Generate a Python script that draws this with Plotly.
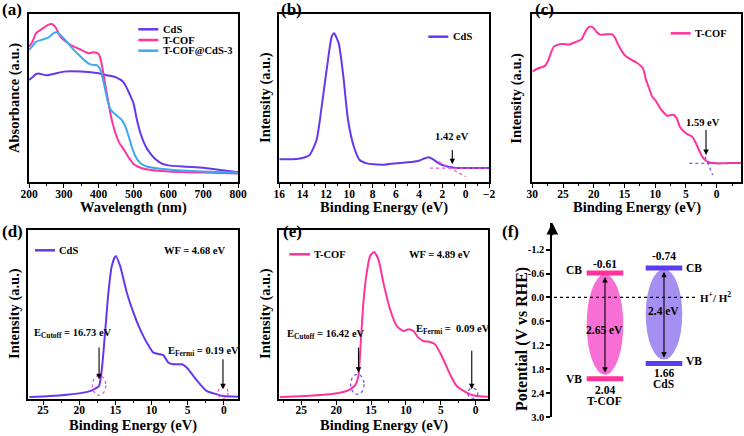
import plotly.graph_objects as go

W, H = 744, 436
FONT = "Liberation Serif"

# ---------------- data ----------------
# (a) UV-vis absorbance
wl_cds = [200, 210, 220, 230, 250, 270, 300, 350, 400, 420, 450, 470, 480, 490, 500, 510, 520, 530, 540, 560, 580, 600, 650, 700, 750, 800]
abs_cds = [0.607, 0.623, 0.643, 0.645, 0.635, 0.643, 0.657, 0.657, 0.647, 0.637, 0.623, 0.597, 0.563, 0.518, 0.468, 0.369, 0.290, 0.234, 0.194, 0.141, 0.111, 0.099, 0.091, 0.085, 0.071, 0.058]
wl_tcof = [200, 210, 220, 240, 255, 265, 275, 290, 300, 320, 350, 370, 385, 400, 405, 410, 420, 430, 440, 450, 460, 470, 480, 490, 500, 520, 550, 600, 700, 800]
abs_tcof = [0.806, 0.835, 0.885, 0.915, 0.935, 0.940, 0.925, 0.865, 0.845, 0.815, 0.786, 0.766, 0.772, 0.762, 0.736, 0.687, 0.567, 0.448, 0.349, 0.280, 0.230, 0.200, 0.167, 0.135, 0.107, 0.085, 0.071, 0.063, 0.056, 0.050]
wl_comp = [200, 210, 220, 240, 255, 270, 280, 300, 320, 350, 370, 385, 395, 405, 415, 425, 435, 450, 465, 475, 485, 495, 505, 520, 540, 600, 700, 800]
abs_comp = [0.786, 0.810, 0.835, 0.849, 0.859, 0.885, 0.891, 0.855, 0.806, 0.742, 0.706, 0.696, 0.696, 0.667, 0.587, 0.488, 0.429, 0.399, 0.373, 0.339, 0.280, 0.210, 0.155, 0.111, 0.091, 0.075, 0.063, 0.056]

# (b) VB-XPS CdS
be_b = [16, 14.5, 14, 13.4, 12.8, 12.4, 11.9, 11.5, 11.3, 10.9, 10.5, 10.1, 9.6, 9.1, 8.5, 7.9, 7, 6, 5, 4, 3.5, 3.2, 2.8, 2.4, 2, 1.5, 1, 0, -2]
int_b = [0.135, 0.137, 0.143, 0.161, 0.250, 0.429, 0.687, 0.865, 0.885, 0.825, 0.627, 0.369, 0.210, 0.131, 0.111, 0.105, 0.103, 0.111, 0.117, 0.127, 0.141, 0.147, 0.135, 0.115, 0.101, 0.091, 0.085, 0.083, 0.083]

# (c) VB-XPS T-COF
be_c = [30, 29, 28, 27.5, 27, 26.5, 26, 25, 24, 23, 22, 21.5, 21, 20.5, 20, 19.5, 19, 18, 17, 16.5,
        16, 15, 14, 13, 12, 11.5, 11, 10.5, 10, 9.5, 9, 8.5, 8, 7.5, 7, 6.5, 6, 5, 4.5, 4,
        3.5, 3, 2.5, 2, 1.5, 1, 0, -1, -2, -3, -4]
int_c = [0.657, 0.677, 0.690, 0.716, 0.766, 0.806, 0.815, 0.821, 0.819, 0.833, 0.849, 0.885, 0.915, 0.925, 0.915, 0.891, 0.877, 0.879, 0.879, 0.855,
         0.815, 0.756, 0.730, 0.710, 0.677, 0.607, 0.558, 0.508, 0.488, 0.458, 0.429, 0.409, 0.393, 0.399, 0.399, 0.379, 0.329, 0.290, 0.280, 0.270,
         0.240, 0.200, 0.161, 0.135, 0.121, 0.115, 0.111, 0.111, 0.113, 0.113, 0.115]

# (d) UPS CdS
be_d = [26.9, 24.04, 21.73, 19.43, 18.5, 17.81, 17.26, 16.88, 16.43, 15.97, 15.5, 14.95, 14.35, 13.42, 12.51, 11.58, 10.65, 9.74, 8.81, 8.35, 7.66, 6.97, 5.8, 5.11, 4.2, 3.27, 2.34, 0.96, 0.12, -2.0]
int_d = [0.010, 0.016, 0.024, 0.036, 0.045, 0.059, 0.075, 0.174, 0.391, 0.628, 0.787, 0.846, 0.787, 0.628, 0.510, 0.411, 0.332, 0.273, 0.263, 0.257, 0.213, 0.204, 0.204, 0.184, 0.134, 0.085, 0.045, 0.026, 0.016, 0.012]

# (e) UPS T-COF
be_e = [28.04, 25.17, 22.78, 20.40, 18.97, 18.01, 17.29, 16.82, 16.48, 16.10, 15.62, 15.14, 14.57, 13.95, 13.24, 12.28, 11.32, 10.37, 9.66, 8.94, 8.22, 7.51, 6.55, 5.83, 4.87, 3.68, 2.72, 1.29, 0.43, -0.62, -1.8]
int_e = [0.010, 0.014, 0.020, 0.030, 0.040, 0.055, 0.079, 0.134, 0.332, 0.569, 0.747, 0.846, 0.870, 0.826, 0.688, 0.530, 0.431, 0.401, 0.411, 0.401, 0.362, 0.342, 0.336, 0.322, 0.253, 0.144, 0.075, 0.036, 0.020, 0.014, 0.012]

# (f) band structure
f_names = ["T-COF", "CdS"]
f_cb = [-0.61, -0.74]
f_vb = [2.04, 1.66]
f_gap = ["2.65 eV", "2.4 eV"]
f_ticks = [-1.2, -0.6, 0.0, 0.6, 1.2, 1.8, 2.4, 3.0]

# ---------------- style ----------------
PURPLE = "#6538f0"
PINK = "#ff3399"
LBLUE = "#3ca8ef"
DOTPINK = "#ff4fc8"
DOTBLUE = "#6a5cf5"


def X(p):
    return p / W


def Y(p):
    return 1 - p / H


def line_style(c):
    return dict(color=c, width=2, shape="spline", smoothing=0.6)


fig = go.Figure()
for xs, ys, c in [(wl_cds, abs_cds, PURPLE), (wl_tcof, abs_tcof, PINK), (wl_comp, abs_comp, LBLUE)]:
    fig.add_trace(go.Scatter(x=xs, y=ys, mode="lines", line=line_style(c), xaxis="x", yaxis="y", showlegend=False))
fig.add_trace(go.Scatter(x=be_b, y=int_b, mode="lines", line=line_style(PURPLE), xaxis="x2", yaxis="y2", showlegend=False))
fig.add_trace(go.Scatter(x=be_c, y=int_c, mode="lines", line=line_style(PINK), xaxis="x3", yaxis="y3", showlegend=False))
fig.add_trace(go.Scatter(x=be_d, y=int_d, mode="lines", line=line_style(PURPLE), xaxis="x4", yaxis="y4", showlegend=False))
fig.add_trace(go.Scatter(x=be_e, y=int_e, mode="lines", line=line_style(PINK), xaxis="x5", yaxis="y5", showlegend=False))

# (f) band edges as bars
f_bar_col = [PINK, "#5a3cf0"]
f_ell_col = ["rgba(245,70,200,0.78)", "rgba(130,100,235,0.72)"]
HW = 0.31
for i, nm in enumerate(f_names):
    for v in (f_cb[i], f_vb[i]):
        fig.add_trace(go.Scatter(x=[i - HW, i + HW], y=[v, v], mode="lines",
                                 line=dict(color=f_bar_col[i], width=5),
                                 xaxis="x6", yaxis="y6", showlegend=False))

frame = dict(showline=True, mirror=True, linecolor="black", linewidth=1.6,
             showgrid=False, zeroline=False, automargin=False)
tickf = dict(family=FONT, size=11.5, color="black", weight="bold")


def xax(dom, rng, tick0, dtick, minor, anchor):
    return dict(domain=dom, range=rng, anchor=anchor, tickmode="linear", tick0=tick0, dtick=dtick,
                ticks="outside", ticklen=4, tickwidth=1.3, tickcolor="black", ticklabelstandoff=-4,
                minor=dict(ticks="outside", ticklen=2.5, tickwidth=1, dtick=minor, tickcolor="black"),
                tickfont=tickf, **frame)


def yax(dom, anchor):
    return dict(domain=dom, range=[0, 1], anchor=anchor, showticklabels=False, ticks="", **frame)


ytop = [Y(182), Y(14)]
ybot = [Y(398.7), Y(230)]

layout = dict(
    template="none",
    width=W, height=H, margin=dict(l=0, r=0, t=0, b=0, pad=0, autoexpand=False),
    paper_bgcolor="white", plot_bgcolor="white",
    font=dict(family=FONT, size=11, color="black", weight="bold"),
    xaxis=xax([X(29), X(238)], [200, 800], 200, 100, 50, "y"),
    yaxis=yax(ytop, "x"),
    xaxis2=xax([X(279.3), X(489)], [16, -2], 0, 2, 1, "y2"),
    yaxis2=yax(ytop, "x2"),
    xaxis3=xax([X(532.3), X(741.3)], [30, -4], 0, 5, 2.5, "y3"),
    yaxis3=yax(ytop, "x3"),
    xaxis4=xax([X(28.3), X(238.3)], [27.05, -2], 0, 5, 2.5, "y4"),
    yaxis4=yax(ybot, "x4"),
    xaxis5=xax([X(279.3), X(488.3)], [28.15, -1.8], 0, 5, 2.5, "y5"),
    yaxis5=yax(ybot, "x5"),
    xaxis6=dict(domain=[X(552.3), 1.0], range=[-0.893, 2.356], anchor="y6", visible=False, automargin=False),
    yaxis6=dict(domain=[Y(417), Y(222.7)], range=[3.0, -1.875], anchor="x6",
                tickmode="array", tickvals=f_ticks, ticktext=[f"{v:.1f}" for v in f_ticks],
                ticks="outside", ticklen=4, tickwidth=1.5, tickcolor="black",
                showline=True, linecolor="black", linewidth=1.8, showgrid=False, zeroline=False,
                automargin=False,
                tickfont=dict(family=FONT, size=10.5, color="black", weight="bold")),
)

ann = []
shapes = []


def text(x, y, t, size=11, xanchor="center", yanchor="middle", xref="paper", yref="paper", angle=0, **kw):
    ann.append(dict(x=x, y=y, text=t, xref=xref, yref=yref, showarrow=False, xanchor=xanchor,
                    yanchor=yanchor, textangle=angle,
                    font=dict(family=FONT, size=size, color="black", weight="bold"), **kw))


def arrow(x, y0, y1, xr, yr, both=False):
    d = dict(x=x, y=y1, ax=x, ay=y0, xref=xr, yref=yr, axref=xr, ayref=yr, text="", showarrow=True,
             arrowhead=2, arrowsize=1, arrowwidth=1.1, arrowcolor="black")
    if both:
        d["arrowside"] = "end+start"
    ann.append(d)


def legend_item(x0, x1, y, col, label, size=10.5):
    shapes.append(dict(type="line", xref="paper", yref="paper", x0=X(x0), x1=X(x1), y0=Y(y), y1=Y(y),
                       line=dict(color=col, width=2.5)))
    text(X(x1 + 2.2), Y(y), label, size=size, xanchor="left")


# panel labels
for lab, xx, yy in [("(a)", 12, 9.5), ("(b)", 291.5, 9.5), ("(c)", 544.5, 9.5),
                    ("(d)", 12, 231), ("(e)", 292.5, 231), ("(f)", 511, 231)]:
    text(X(xx), Y(yy), lab, size=17)

# axis titles
for t, xx, yy in [("Absorbance (a.u.)", 14, 98), ("Intensity (a.u.)", 265, 98), ("Intensity (a.u.)", 515.7, 98),
                  ("Intensity (a.u.)", 14, 314), ("Intensity (a.u.)", 265, 314)]:
    text(X(xx), Y(yy), t, size=14.5, angle=-90)
for t, xx, yy in [("Wavelength (nm)", 133.5, 207), ("Binding Energy (eV)", 384, 207),
                  ("Binding Energy (eV)", 636.8, 207), ("Binding Energy (eV)", 133.3, 425.5),
                  ("Binding Energy (eV)", 383.8, 425.5)]:
    text(X(xx), Y(yy), t, size=14.5)
text(X(522), Y(339), "Potential (V vs RHE)", size=16, angle=-90)

# legends
legend_item(138.3, 158.3, 29.3, PURPLE, "CdS")
legend_item(138.3, 158.3, 40, PINK, "T-COF")
legend_item(138.3, 158.3, 50.7, LBLUE, "T-COF@CdS-3")
legend_item(428.3, 448.3, 36.7, PURPLE, "CdS")
legend_item(670.7, 690.7, 33.3, PINK, "T-COF")
legend_item(35, 55, 250.3, PURPLE, "CdS")
legend_item(289.3, 310, 254.3, PINK, "T-COF")

# (b) tangent construction
shapes.append(dict(type="line", xref="x2", yref="y2", x0=3.06, x1=-2, y0=0.083, y1=0.083,
                   line=dict(color=DOTPINK, width=1.3, dash="dot")))
shapes.append(dict(type="line", xref="x2", yref="y2", x0=2.35, x1=0.0, y0=0.121, y1=0.032,
                   line=dict(color=DOTPINK, width=1.3, dash="dot")))
arrow(1.15, 0.20, 0.105, "x2", "y2")
text(1.2, 0.27, "1.42 eV", size=10.5, xref="x2", yref="y2")

# (c) tangent construction
shapes.append(dict(type="line", xref="x3", yref="y3", x0=4.45, x1=-4, y0=0.111, y1=0.111,
                   line=dict(color=DOTBLUE, width=1.3, dash="dot")))
shapes.append(dict(type="line", xref="x3", yref="y3", x0=1.9, x1=0.65, y0=0.151, y1=0.042,
                   line=dict(color=DOTBLUE, width=1.3, dash="dot")))
arrow(1.74, 0.319, 0.161, "x3", "y3")
text(2.27, 0.353, "1.59 eV", size=10.5, xref="x3", yref="y3")

# (d) annotations
text(X(161.7), Y(250.3), "WF = 4.68 eV", size=10.5, xanchor="left")
text(X(32.3), Y(333.3), "E<sub>Cutoff</sub> = 16.73 eV", size=10.5, xanchor="left")
text(X(166), Y(351), "E<sub>Fermi</sub> = 0.19 eV", size=10.5, xanchor="left")
arrow(17.26, 0.312, 0.115, "x4", "y4")
arrow(0.12, 0.243, 0.056, "x4", "y4")
shapes.append(dict(type="circle", xref="x4", yref="y4", x0=17.26 - 0.92, x1=17.26 + 0.92, y0=0.079 - 0.059,
                   y1=0.079 + 0.059, line=dict(color=DOTPINK, width=1.3, dash="dot")))
shapes.append(dict(type="circle", xref="x4", yref="y4", x0=0.12 - 0.69, x1=0.12 + 0.69, y0=0.0,
                   y1=0.072, line=dict(color=DOTPINK, width=1.3, dash="dot")))

# (e) annotations
text(X(406.7), Y(254.3), "WF = 4.89 eV", size=10.5, xanchor="left")
text(X(285), Y(334.3), "E<sub>Cutoff</sub> = 16.42 eV", size=10.5, xanchor="left")
text(X(414), Y(329.3), "E<sub>Fermi</sub> =  0.09 eV", size=10.5, xanchor="left")
arrow(16.8, 0.312, 0.154, "x5", "y5")
arrow(0.57, 0.293, 0.056, "x5", "y5")
shapes.append(dict(type="circle", xref="x5", yref="y5", x0=16.96 - 0.96, x1=16.96 + 0.96, y0=0.085 - 0.059,
                   y1=0.085 + 0.059, line=dict(color=DOTBLUE, width=1.3, dash="dot")))
shapes.append(dict(type="circle", xref="x5", yref="y5", x0=0.43 - 0.72, x1=0.43 + 0.72, y0=0.002,
                   y1=0.062, line=dict(color=DOTBLUE, width=1.3, dash="dot")))

# (f) band diagram
shapes.append(dict(type="line", xref="x6", yref="y6", x0=-0.864, x1=1.554, y0=0, y1=0,
                   line=dict(color="black", width=1.2, dash="dot")))
text(1.876, 0, "H<sup>+</sup>/ H<sup>2</sup>", size=11, xref="x6", yref="y6")
gap_y = [0.81, 0.33]
for i, nm in enumerate(f_names):
    shapes.append(dict(type="circle", xref="x6", yref="y6", x0=i - HW, x1=i + HW,
                       y0=f_cb[i] + 0.03, y1=f_vb[i] - 0.1, fillcolor=f_ell_col[i],
                       line=dict(width=0), layer="below"))
    arrow(i, f_cb[i] + 0.06, f_vb[i] - 0.15, "x6", "y6", both=True)
    text(i, gap_y[i], f_gap[i], size=11.5, xref="x6", yref="y6")
# T-COF labels (left side)
text(-0.525, f_cb[0], "CB", size=11.5, xref="x6", yref="y6", yshift=3)
text(-0.525, f_vb[0], "VB", size=11.5, xref="x6", yref="y6")
text(0, f_cb[0], f"{f_cb[0]:.2f}", size=11.5, xref="x6", yref="y6", yanchor="bottom", yshift=1)
text(0, f_vb[0], f"{f_vb[0]:.2f}", size=11.5, xref="x6", yref="y6", yanchor="top", yshift=-3)
text(0, f_vb[0], f_names[0], size=11.5, xref="x6", yref="y6", yanchor="top", yshift=-14)
# CdS labels (right side)
text(1.508, f_cb[1], "CB", size=11.5, xref="x6", yref="y6")
text(1.508, f_vb[1], "VB", size=11.5, xref="x6", yref="y6", yshift=3)
text(1, f_cb[1], f"{f_cb[1]:.2f}", size=11.5, xref="x6", yref="y6", yanchor="bottom", yshift=4)
text(1, f_vb[1], f"{f_vb[1]:.2f}", size=11.5, xref="x6", yref="y6", yanchor="top", yshift=-1)
text(1, f_vb[1], f_names[1], size=11.5, xref="x6", yref="y6", yanchor="top", yshift=-12)
# y-axis arrow head
ann.append(dict(x=0, y=1, xref="x6 domain", yref="y6 domain", ax=0, ay=14, text="", showarrow=True,
                arrowhead=2, arrowsize=1.3, arrowwidth=1.8, arrowcolor="black"))

layout["annotations"] = ann
layout["shapes"] = shapes
fig.update_layout(**layout)
fig.write_html("out.html", config={"displayModeBar": False},
               post_script="document.body.style.margin='0';document.body.style.padding='0';")
